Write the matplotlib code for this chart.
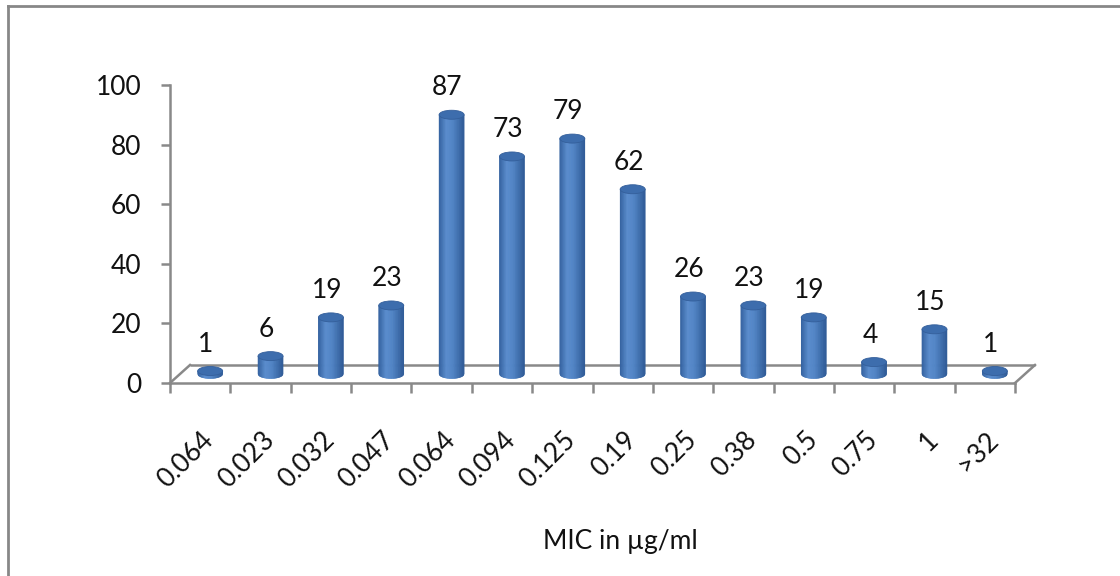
import numpy as np
import matplotlib
matplotlib.use("Agg")
import matplotlib.pyplot as plt
from matplotlib.collections import PolyCollection
from matplotlib.patches import Ellipse
from matplotlib.lines import Line2D
from matplotlib.colors import LinearSegmentedColormap

# ---- data ----
categories = ["0.064", "0.023", "0.032", "0.047", "0.064", "0.094", "0.125",
              "0.19", "0.25", "0.38", "0.5", "0.75", "1", ">32"]
counts = [1, 6, 19, 23, 87, 73, 79, 62, 26, 23, 19, 4, 15, 1]
y_ticks = [0, 20, 40, 60, 80, 100]
x_title = "MIC in µg/ml"

plt.rcParams["font.family"] = ["Lato", "DejaVu Sans"]
FS = 19

W, H = 1120, 576
fig = plt.figure(figsize=(W / 100, H / 100), dpi=100)
fig.patch.set_facecolor("white")

# axes box (front plane of the 3-D floor)
ax_l, ax_r, ax_b, ax_t = 170, 1015, 383, 85
ax = fig.add_axes([ax_l / W, (H - ax_b) / H, (ax_r - ax_l) / W, (ax_b - ax_t) / H])
n = len(categories)
ax.set_xlim(-0.5, n - 0.5)
ax.set_ylim(0, 100)

# data units per pixel
ux = n / (ax_r - ax_l)
uy = 100 / (ax_b - ax_t)

# depth of the floor
depth_dx = 20 * ux
depth_dy = 18 * uy

grey = "#898989"

# floor outline (back edge and two sides)
x0, x1 = -0.5, n - 0.5
ax.plot([x0 + depth_dx, x1 + depth_dx], [depth_dy, depth_dy], color=grey, lw=1.8,
        clip_on=False, zorder=1, solid_capstyle="butt")
ax.plot([x0, x0 + depth_dx], [0, depth_dy], color=grey, lw=1.8, clip_on=False, zorder=1)
ax.plot([x1, x1 + depth_dx], [0, depth_dy], color=grey, lw=1.8, clip_on=False, zorder=1)

# cylinder geometry
hw = 12.5 * ux          # half width
eh = 4.5 * uy           # ellipse semi-height
mid_dx = depth_dx / 2
mid_dy = depth_dy / 2

shade = LinearSegmentedColormap.from_list(
    "cyl", [(0.0, "#32609e"), (0.3, "#5a8ccd"), (0.55, "#5285c6"), (1.0, "#2f5b97")])

n_strips = 40
for i, v in enumerate(counts):
    cx = i + mid_dx
    base = mid_dy
    top = mid_dy + v
    xs = np.linspace(cx - hw, cx + hw, n_strips + 1)
    polys, cols = [], []
    for j in range(n_strips):
        xa, xb = xs[j], xs[j + 1]
        ra = np.sqrt(max(0.0, 1 - ((xa - cx) / hw) ** 2))
        rb = np.sqrt(max(0.0, 1 - ((xb - cx) / hw) ** 2))
        polys.append([(xa, base - eh * ra), (xb, base - eh * rb),
                      (xb, top), (xa, top)])
        cols.append(shade((j + 0.5) / n_strips))
    pc = PolyCollection(polys, facecolors=cols, edgecolors=cols, linewidths=0.4,
                        clip_on=False, zorder=3)
    ax.add_collection(pc)
    ax.add_patch(Ellipse((cx, top), 2 * hw, 2 * eh, facecolor="#3d6dad",
                         edgecolor="#345f9b", lw=0.6, clip_on=False, zorder=4))
    ax.annotate(str(v), xy=(cx, top), xytext=(-3, 14), textcoords="offset points",
                ha="center", va="baseline", fontsize=FS, color="#111111",
                annotation_clip=False, zorder=5)

# axes styling
for side in ("top", "right"):
    ax.spines[side].set_visible(False)
for side in ("left", "bottom"):
    ax.spines[side].set_color(grey)
    ax.spines[side].set_linewidth(1.8)

ax.set_yticks(y_ticks)
ax.set_yticklabels([str(t) for t in y_ticks], fontsize=FS, color="#111111")
ax.tick_params(axis="y", length=6.5, width=1.8, color=grey, pad=14)

ax.set_xticks(np.arange(-0.5, n, 1.0))
ax.set_xticklabels([])
ax.tick_params(axis="x", length=7.5, width=1.8, color=grey)

# rotated category labels
for i, lab in enumerate(categories):
    ax.annotate(lab, xy=(i, 0), xytext=(7, -38), textcoords="offset points",
                ha="right", va="center", rotation=45, rotation_mode="anchor",
                fontsize=FS, color="#111111", annotation_clip=False)

fig.text(620 / W, 1 - 542 / H, x_title, ha="center", va="center",
         fontsize=FS, color="#111111")

# outer frame
fig.add_artist(Line2D([8 / W, 1.0], [1 - 6 / H, 1 - 6 / H], transform=fig.transFigure,
                      color="#878787", lw=2.0))
fig.add_artist(Line2D([8 / W, 8 / W], [0.0, 1 - 6 / H], transform=fig.transFigure,
                      color="#878787", lw=2.0))

fig.savefig("out.png", dpi=100, facecolor="white")
